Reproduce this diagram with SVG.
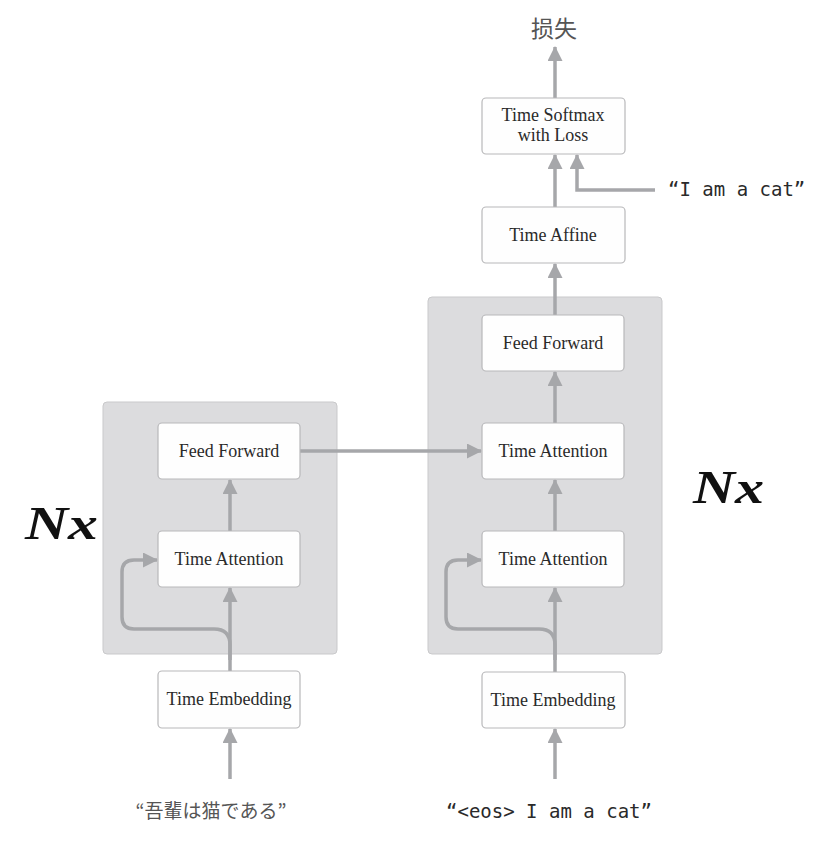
<svg xmlns="http://www.w3.org/2000/svg" width="826" height="851" viewBox="0 0 826 851">
<style>
.grp{fill:#dcdcde;stroke:#c9c9cb;stroke-width:1}
.node rect{fill:#fefefe;stroke:#b8b8ba;stroke-width:1.2}
.node text{font-family:"Liberation Serif",serif;font-size:18px;fill:#2a2a2a;text-anchor:middle}
.conn path{fill:none;stroke:#a6a7aa;stroke-width:3.5}
.mono{font-family:"DejaVu Sans Mono","Liberation Mono",monospace;font-size:19px;fill:#2a2a2a}
.cjk{font-family:"Noto Sans CJK JP","Noto Sans CJK SC",sans-serif;fill:#555}
.nx{font-family:"Liberation Serif",serif;font-weight:bold;font-style:italic;font-size:46px;fill:#111}
</style>
<defs>
<marker id="ah" markerUnits="userSpaceOnUse" markerWidth="15" markerHeight="15" refX="14" refY="7.5" orient="auto">
<path d="M0,0 L15,7.5 L0,15 z" fill="#a6a7aa"/>
</marker>
</defs>
<rect class="grp" x="103" y="402" width="234" height="252" rx="4"/>
<rect class="grp" x="428" y="297" width="234" height="357" rx="4"/>
<g class="conn">
<path d="M230,779 V729" marker-end="url(#ah)"/>
<path d="M230,671 V588" marker-end="url(#ah)"/>
<path d="M230,660 V645 Q230,629 214,629 H134 Q122,629 122,617 V572 Q122,560 134,560 H157" marker-end="url(#ah)"/>
<path d="M230,531 V480" marker-end="url(#ah)"/>
<path d="M300,451 H481" marker-end="url(#ah)"/>
<path d="M555,779 V729" marker-end="url(#ah)"/>
<path d="M555,672 V588" marker-end="url(#ah)"/>
<path d="M555,660 V645 Q555,629 539,629 H458 Q446,629 446,617 V572 Q446,560 458,560 H481" marker-end="url(#ah)"/>
<path d="M555,531 V480" marker-end="url(#ah)"/>
<path d="M555,423 V372" marker-end="url(#ah)"/>
<path d="M555,315 V264" marker-end="url(#ah)"/>
<path d="M555,207 V155" marker-end="url(#ah)"/>
<path d="M555,98 V47" marker-end="url(#ah)"/>
<path d="M655,190 H577 V155" marker-end="url(#ah)"/>
</g>
<g id="l-ff" class="node"><rect x="158" y="423" width="142" height="56" rx="4"/><text x="229" y="457">Feed Forward</text></g>
<g id="l-ta" class="node"><rect x="158" y="531" width="142" height="56" rx="4"/><text x="229" y="565">Time Attention</text></g>
<g id="l-te" class="node"><rect x="158" y="671" width="142" height="57" rx="4"/><text x="229" y="705">Time Embedding</text></g>
<g id="r-loss" class="node"><rect x="482" y="98" width="143" height="56" rx="4"/><text x="553" y="121">Time Softmax</text><text x="553" y="141">with Loss</text></g>
<g id="r-affine" class="node"><rect x="482" y="207" width="143" height="56" rx="4"/><text x="553" y="241">Time Affine</text></g>
<g id="r-ff" class="node"><rect x="482" y="315" width="142" height="56" rx="4"/><text x="553" y="349">Feed Forward</text></g>
<g id="r-ta2" class="node"><rect x="482" y="423" width="142" height="56" rx="4"/><text x="553" y="457">Time Attention</text></g>
<g id="r-ta1" class="node"><rect x="482" y="531" width="142" height="56" rx="4"/><text x="553" y="565">Time Attention</text></g>
<g id="r-te" class="node"><rect x="482" y="672" width="143" height="56" rx="4"/><text x="553" y="706">Time Embedding</text></g>
<g id="labels">
<text class="cjk" x="554" y="37" font-size="23" text-anchor="middle">损失</text>
<text class="mono" x="668" y="196">“I am a cat”</text>
<text class="mono" x="549" y="818" text-anchor="middle">“&lt;eos&gt; I am a cat”</text>
<text class="cjk" x="211" y="818" font-size="19" text-anchor="middle">“吾輩は猫である”</text>
<text class="nx" x="25" y="539" textLength="73" lengthAdjust="spacingAndGlyphs">Nx</text>
<text class="nx" x="693" y="503" textLength="71" lengthAdjust="spacingAndGlyphs">Nx</text>
</g>
</svg>
